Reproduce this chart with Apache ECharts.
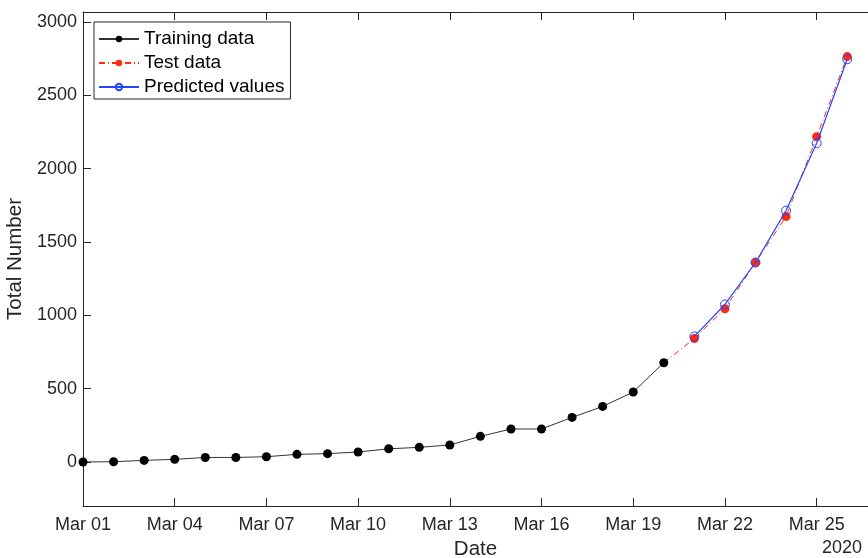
<!DOCTYPE html>
<html><head><meta charset="utf-8">
<script src="https://cdn.jsdelivr.net/npm/echarts@6/dist/echarts.min.js"></script>
<style>html,body{margin:0;padding:0;background:#fff}#c{width:868px;height:558px}</style>
</head><body><div id="c"></div>
<script>
// day index 0 = Mar 01, 2020
var trainDays = [0,1,2,3,4,5,6,7,8,9,10,11,12,13,14,15,16,17,18,19];
var trainValues = [0,2,11,18,31,31,36,52,57,68,90,100,116,175,225,225,304,379,477,677];
var testDays = [19,20,21,22,23,24,25];
var testValues = [677,842,1045,1360,1673,2218,2764];
var predDays = [20,21,22,23,24,25];
var predValues = [856,1074,1360,1714,2173,2746];
var yTicks = [0,500,1000,1500,2000,2500,3000];
var font = '"Liberation Sans", Helvetica, Arial, sans-serif';
function pad(n){return n<10?'0'+n:''+n;}
function pairs(xs, ys){return xs.map(function(x,i){return [x, ys[i]];});}
var testData = pairs(testDays, testValues);
testData[0] = {value: testData[0], symbol: 'none'};
var chart = echarts.init(document.getElementById('c'), null, {renderer:'canvas'});
chart.setOption({
  animation:false,
  backgroundColor:'#fff',
  grid:{left:83, top:12, right:0, bottom:52, containLabel:false, outerBoundsMode:'none'},
  legend:{
    left:94, top:22, orient:'vertical', itemGap:4, itemWidth:40, itemHeight:8,
    padding:[7,6,2,4], borderColor:'#262626', borderWidth:1, backgroundColor:'#fff',
    textStyle:{fontFamily:font, fontSize:19, lineHeight:20, color:'#000'},
    data:['Training data','Test data','Predicted values']
  },
  xAxis:[{
    type:'value', min:0, max:25.68, interval:3,
    name:'Date', nameLocation:'middle', nameGap:31,
    nameTextStyle:{fontFamily:font, fontSize:20.5, color:'#262626'},
    axisLine:{onZero:false, lineStyle:{color:'#262626', width:1}},
    axisTick:{inside:true, length:8, lineStyle:{color:'#262626'}},
    axisLabel:{fontFamily:font, fontSize:18, color:'#262626', margin:10,
      formatter:function(v){return 'Mar ' + pad(Math.round(v)+1);}, showMaxLabel:false},
    splitLine:{show:false}
  },{
    type:'value', position:'top', min:0, max:25.68, interval:3,
    axisLine:{onZero:false, lineStyle:{color:'#262626', width:1}},
    axisTick:{inside:true, length:8, lineStyle:{color:'#262626'}},
    axisLabel:{show:false}, splitLine:{show:false}
  }],
  yAxis:{
    type:'value', min:-300, max:3068,
    name:'Total Number', nameLocation:'middle', nameGap:55,
    nameTextStyle:{fontFamily:font, fontSize:20.5, color:'#262626'},
    axisLine:{show:true, onZero:false, lineStyle:{color:'#262626', width:1}},
    axisTick:{show:true, inside:true, length:8, lineStyle:{color:'#262626'},
      customValues: yTicks},
    axisLabel:{fontFamily:font, fontSize:18, color:'#262626', margin:6, customValues: yTicks,
      formatter:function(v){return String(v);}},
    splitLine:{show:false}
  },
  series:[
    {name:'Test data', type:'line', data:testData, symbol:'circle', symbolSize:9, z:2,
      itemStyle:{color:'#ff2a0f'}, lineStyle:{color:'#ff2a0f', width:1, type:[6,3,1,3]}},
    {name:'Training data', type:'line', data:pairs(trainDays, trainValues), symbol:'circle', symbolSize:9, z:3,
      itemStyle:{color:'#000'}, lineStyle:{color:'#333', width:1}},
    {name:'Predicted values', type:'line', data:pairs(predDays, predValues), symbol:'circle', symbolSize:9, z:4,
      itemStyle:{color:'rgba(0,0,0,0)', borderColor:'#2446ff', borderWidth:1}, lineStyle:{color:'#2446ff', width:1.2}}
  ],
  graphic:[{type:'text', right:6, top:539, style:{text:'2020', fontFamily:font, fontSize:18, fill:'#262626'}}]
});
</script></body></html>
